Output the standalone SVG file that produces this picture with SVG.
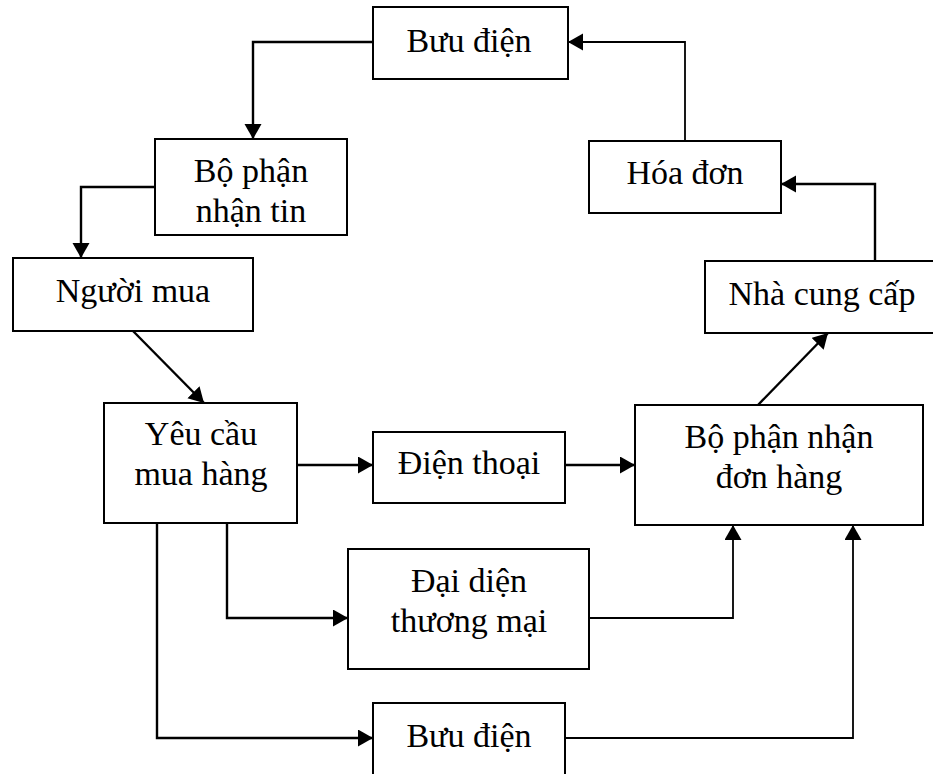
<svg xmlns="http://www.w3.org/2000/svg" width="933" height="774" viewBox="0 0 933 774">
  <style>
    .box { fill: #ffffff; stroke: #000000; stroke-width: 2; }
    .lbl { font-family: "Liberation Serif", "Times New Roman", serif; font-size: 34px; fill: #000000; text-anchor: middle; }
    .wire { fill: none; stroke: #000000; stroke-width: 2.4; }
    .thin { stroke-width: 1.8; }
    .arr { marker-end: url(#head); }
  </style>
  <defs>
    <marker id="head" markerUnits="userSpaceOnUse" markerWidth="16" markerHeight="18" refX="15" refY="8.5" orient="auto">
      <path d="M0,0 L15,8.5 L0,17 z" fill="#000000"/>
    </marker>
  </defs>
  <rect width="933" height="774" fill="#ffffff"/>

  <!-- connectors -->
  <g id="connectors">
    <path class="wire arr" d="M373,42 H253 V139"/>
    <path class="wire arr" d="M155,187 H81 V258"/>
    <path class="wire arr" d="M133,331 L204,403"/>
    <path class="wire arr" d="M297,465 H373"/>
    <path class="wire arr" d="M565,465 H635"/>
    <path class="wire arr" d="M227,523 V618 H348"/>
    <path class="wire arr" d="M157,523 V738 H373"/>
    <path class="wire thin arr" d="M589,618 H733 V525"/>
    <path class="wire thin arr" d="M565,738 H853 V525"/>
    <path class="wire arr" d="M758,405 L828,333"/>
    <path class="wire arr" d="M875,261 V184 H781"/>
    <path class="wire thin arr" d="M685,141 V42 H568"/>
  </g>

  <!-- nodes -->
  <g id="buu-dien-top">
    <rect class="box" x="373" y="7" width="195" height="72"/>
    <text class="lbl" x="469" y="52">Bưu điện</text>
  </g>
  <g id="bo-phan-nhan-tin">
    <rect class="box" x="155" y="139" width="192" height="96"/>
    <text class="lbl" x="251" y="182">Bộ phận</text>
    <text class="lbl" x="251" y="222">nhận tin</text>
  </g>
  <g id="nguoi-mua">
    <rect class="box" x="13" y="258" width="240" height="73"/>
    <text class="lbl" x="133" y="302">Người mua</text>
  </g>
  <g id="yeu-cau-mua-hang">
    <rect class="box" x="104" y="403" width="193" height="120"/>
    <text class="lbl" x="201" y="445">Yêu cầu</text>
    <text class="lbl" x="201" y="485">mua hàng</text>
  </g>
  <g id="dien-thoai">
    <rect class="box" x="373" y="432" width="192" height="71"/>
    <text class="lbl" x="469" y="474">Điện thoại</text>
  </g>
  <g id="dai-dien-thuong-mai">
    <rect class="box" x="348" y="549" width="241" height="120"/>
    <text class="lbl" x="469" y="592">Đại diện</text>
    <text class="lbl" x="469" y="632">thương mại</text>
  </g>
  <g id="buu-dien-bottom">
    <rect class="box" x="373" y="703" width="192" height="80"/>
    <text class="lbl" x="469" y="747">Bưu điện</text>
  </g>
  <g id="bo-phan-nhan-don-hang">
    <rect class="box" x="635" y="405" width="288" height="120"/>
    <text class="lbl" x="779" y="448">Bộ phận nhận</text>
    <text class="lbl" x="779" y="488">đơn hàng</text>
  </g>
  <g id="nha-cung-cap">
    <rect class="box" x="705" y="261" width="240" height="72"/>
    <text class="lbl" x="822" y="305">Nhà cung cấp</text>
  </g>
  <g id="hoa-don">
    <rect class="box" x="589" y="141" width="192" height="72"/>
    <text class="lbl" x="685" y="184">Hóa đơn</text>
  </g>
</svg>
